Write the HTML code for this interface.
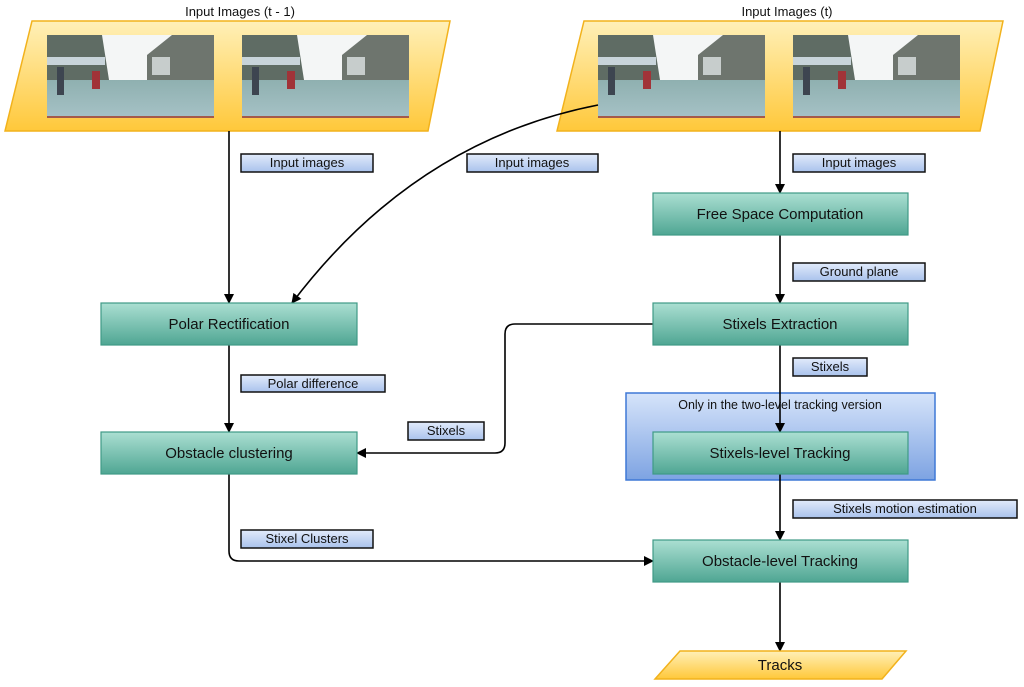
<!DOCTYPE html>
<html><head><meta charset="utf-8">
<style>
html,body{margin:0;padding:0;background:#fff;}
svg{display:block;}
text{font-family:"Liberation Sans",sans-serif;}
</style></head>
<body>
<svg width="1024" height="687" viewBox="0 0 1024 687" xmlns="http://www.w3.org/2000/svg">
<defs>
<linearGradient id="yel" x1="0" y1="0" x2="0" y2="1">
<stop offset="0" stop-color="#fff0b8"/><stop offset="1" stop-color="#ffc83a"/></linearGradient>
<linearGradient id="grn" x1="0" y1="0" x2="0" y2="1">
<stop offset="0" stop-color="#abdfd2"/><stop offset="1" stop-color="#4fa693"/></linearGradient>
<linearGradient id="blu" x1="0" y1="0" x2="0" y2="1">
<stop offset="0" stop-color="#d6e4fa"/><stop offset="1" stop-color="#7da3e2"/></linearGradient>
<linearGradient id="lbl" x1="0" y1="0" x2="0" y2="1">
<stop offset="0" stop-color="#e2ebfb"/><stop offset="1" stop-color="#a9c2ec"/></linearGradient>
<linearGradient id="ground" x1="0" y1="0" x2="0" y2="1">
<stop offset="0" stop-color="#8fb0b0"/><stop offset="1" stop-color="#a6c2c6"/></linearGradient>
<marker id="ar" markerWidth="10" markerHeight="10" refX="9" refY="5" orient="auto" markerUnits="userSpaceOnUse">
<path d="M0,0 L10,5 L0,10 z" fill="#000"/></marker>
<g id="photo">
<rect x="0" y="0" width="167" height="83" fill="#f4f6f6"/>
<polygon points="0,0 55,0 62,45 0,50" fill="#5f6c64"/>
<rect x="0" y="22" width="58" height="8" fill="#c8d4da"/>
<polygon points="100,20 125,0 167,0 167,48 100,48" fill="#6e756e"/>
<rect x="105" y="22" width="18" height="18" fill="#c7cdcc"/>
<rect x="0" y="45" width="167" height="38" fill="url(#ground)"/>
<rect x="10" y="32" width="7" height="28" fill="#3d4550"/>
<rect x="45" y="36" width="8" height="18" fill="#a13338"/>
<rect x="0" y="81" width="167" height="2" fill="#a45a4a"/>
</g>
</defs>

<text x="240" y="16" font-size="13" text-anchor="middle" fill="#111">Input Images (t - 1)</text>
<text x="787" y="16" font-size="13" text-anchor="middle" fill="#111">Input Images (t)</text>

<polygon points="32,21 450,21 428,131 5,131" fill="url(#yel)" stroke="#f2b21c" stroke-width="1.5"/>
<use href="#photo" x="47" y="35"/>
<use href="#photo" x="242" y="35"/>
<polygon points="584,21 1003,21 980,131 557,131" fill="url(#yel)" stroke="#f2b21c" stroke-width="1.5"/>
<use href="#photo" x="598" y="35"/>
<use href="#photo" x="793" y="35"/>

<rect x="626" y="393" width="309" height="87" fill="url(#blu)" stroke="#3f78d6" stroke-width="1.5"/>
<text x="780" y="409" font-size="12.5" text-anchor="middle" fill="#111">Only in the two-level tracking version</text>

<g stroke="#000" stroke-width="1.6" fill="none">
<line x1="229" y1="131" x2="229" y2="303" marker-end="url(#ar)"/>
<path d="M598,105 C470,130 370,200 292,303" marker-end="url(#ar)"/>
<line x1="780" y1="131" x2="780" y2="193" marker-end="url(#ar)"/>
<line x1="780" y1="235" x2="780" y2="303" marker-end="url(#ar)"/>
<line x1="780" y1="345" x2="780" y2="432" marker-end="url(#ar)"/>
<line x1="780" y1="474" x2="780" y2="540" marker-end="url(#ar)"/>
<line x1="780" y1="582" x2="780" y2="651" marker-end="url(#ar)"/>
<line x1="229" y1="345" x2="229" y2="432" marker-end="url(#ar)"/>
<path d="M653,324 L515,324 Q505,324 505,334 L505,443 Q505,453 495,453 L357,453" marker-end="url(#ar)"/>
<path d="M229,474 L229,551 Q229,561 239,561 L653,561" marker-end="url(#ar)"/>
</g>

<g stroke="#3f9a86" stroke-width="1.2" fill="url(#grn)">
<rect x="101" y="303" width="256" height="42"/>
<rect x="101" y="432" width="256" height="42"/>
<rect x="653" y="193" width="255" height="42"/>
<rect x="653" y="303" width="255" height="42"/>
<rect x="653" y="432" width="255" height="42"/>
<rect x="653" y="540" width="255" height="42"/>
</g>
<g font-size="15" text-anchor="middle" fill="#111">
<text x="229" y="329">Polar Rectification</text>
<text x="229" y="458">Obstacle clustering</text>
<text x="780" y="219">Free Space Computation</text>
<text x="780" y="329">Stixels Extraction</text>
<text x="780" y="458">Stixels-level Tracking</text>
<text x="780" y="566">Obstacle-level Tracking</text>
</g>

<polygon points="680,651 906,651 882,679 655,679" fill="url(#yel)" stroke="#f2b21c" stroke-width="1.5"/>
<text x="780" y="670" font-size="15" text-anchor="middle" fill="#111">Tracks</text>

<g stroke="#111" stroke-width="1.5" fill="url(#lbl)">
<rect x="241" y="154" width="132" height="18"/>
<rect x="467" y="154" width="131" height="18"/>
<rect x="793" y="154" width="132" height="18"/>
<rect x="793" y="263" width="132" height="18"/>
<rect x="241" y="375" width="144" height="17"/>
<rect x="793" y="358" width="74" height="18"/>
<rect x="408" y="422" width="76" height="18"/>
<rect x="241" y="530" width="132" height="18"/>
<rect x="793" y="500" width="224" height="18"/>
</g>
<g font-size="13" text-anchor="middle" fill="#111">
<text x="307" y="167">Input images</text>
<text x="532" y="167">Input images</text>
<text x="859" y="167">Input images</text>
<text x="859" y="276">Ground plane</text>
<text x="313" y="388">Polar difference</text>
<text x="830" y="371">Stixels</text>
<text x="446" y="435">Stixels</text>
<text x="307" y="543">Stixel Clusters</text>
<text x="905" y="513">Stixels motion estimation</text>
</g>
</svg>
</body></html>
